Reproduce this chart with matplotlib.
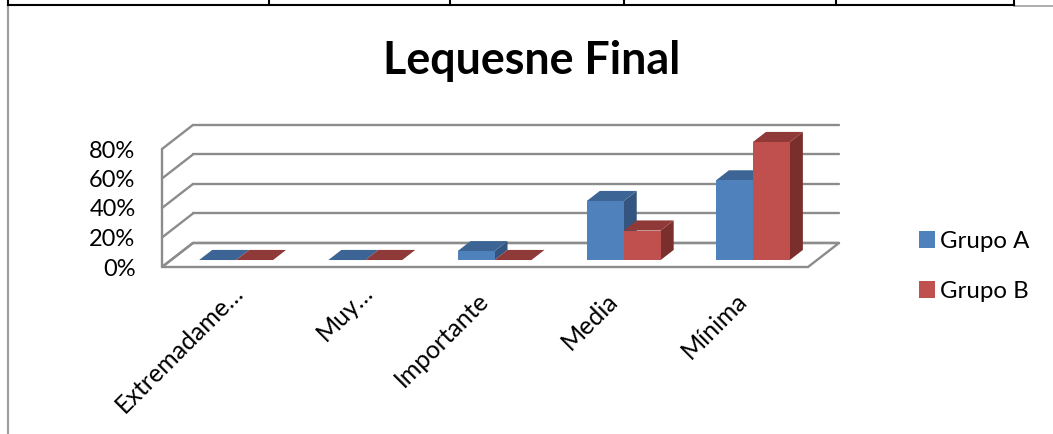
# -*- coding: utf-8 -*-

# barras con falso 3D (proyeccion oblicua) para el Lequesne final
import matplotlib
matplotlib.use('Agg')
import matplotlib.pyplot as plt
from matplotlib.patches import Polygon, Patch
from matplotlib.ticker import PercentFormatter
from matplotlib.transforms import ScaledTranslation

plt.rcParams['font.family'] = ['Lato', 'DejaVu Sans']

categorias = ['Extremadame…', 'Muy…', 'Importante', 'Media', 'Mínima']
grupo_a = [0, 0, 6, 40, 54]
grupo_b = [0, 0, 0, 20, 80]
marcas_y = [0, 20, 40, 60, 80]

GRIS = '#8c8c8c'
AZUL = ('#4f81bd', '#3c6494', '#34557f')
ROJO = ('#c0504d', '#8f3a38', '#7a2f2d')

W, H = 1053, 434
fig = plt.figure(figsize=(W / 100, H / 100), dpi=100)
ax = fig.add_axes([162 / W, (H - 267) / H, 646 / W, 118 / H])
ax.set_xlim(0, 5)
ax.set_ylim(0, 80)
for s in ax.spines.values():
    s.set_visible(False)

# desplazamiento de la profundidad, en unidades de los datos
PROF_X = 0.24
PROF_Y = 16.3


def proy(x, v, d):
    return (x + d * PROF_X, v + d * PROF_Y)


def cara(puntos, color, z, borde='none', lw=0):
    ax.add_patch(Polygon(puntos, closed=True, facecolor=color, edgecolor=borde,
                         lw=lw, zorder=z, clip_on=False, joinstyle='round'))


def linea(a, b, z=1):
    ax.plot([a[0], b[0]], [a[1], b[1]], color=GRIS, lw=1.7, zorder=z,
            clip_on=False, solid_capstyle='round')


# suelo
cara([proy(0, 0, 0), proy(5, 0, 0), proy(5, 0, 1), proy(0, 0, 1)], 'white', 1,
     GRIS, 1.7)

# pared izquierda y lineas de division
linea(proy(0, 0, 0), proy(0, 80, 0))
for m in marcas_y:
    linea(proy(0, m, 0), proy(0, m, 1))
    linea(proy(0, m, 1), proy(5, m, 1))

ANCHO = 0.286
HUECO = 0.218
D0 = 0.29
D1 = 0.71


def barra(x, v, colores, z):
    # frente con ax.bar, tapa y lateral como poligonos
    base = proy(x, 0, D0)
    if v > 0:
        ax.bar(base[0], v, ANCHO, bottom=base[1], align='edge',
               color=colores[0], zorder=z + 0.2, clip_on=False)
        cara([proy(x + ANCHO, 0, D0), proy(x + ANCHO, 0, D1),
              proy(x + ANCHO, v, D1), proy(x + ANCHO, v, D0)], colores[2], z)
    cara([proy(x, v, D0), proy(x + ANCHO, v, D0),
          proy(x + ANCHO, v, D1), proy(x, v, D1)], colores[1], z + 0.1)


for i, (a, b) in enumerate(zip(grupo_a, grupo_b)):
    barra(i + HUECO, a, AZUL, 3)
    barra(i + HUECO + ANCHO, b, ROJO, 4)

ax.set_yticks(marcas_y)
ax.yaxis.set_major_formatter(PercentFormatter(decimals=0))
ax.tick_params(axis='y', length=0, pad=19, labelsize=17, labelcolor='black')
baja = ScaledTranslation(0, -2 / 100, fig.dpi_scale_trans)
for t in ax.get_yticklabels():
    t.set_va('center')
    t.set_transform(t.get_transform() + baja)

# las etiquetas truncadas con puntos suspensivos quedan mas a la derecha
ax.set_xticks([i + d for i, d in enumerate([0.537, 0.54, 0.435, 0.435, 0.435])])
ax.set_xticklabels(categorias, rotation=45, ha='right', rotation_mode='anchor',
                   fontsize=18, color='black')
ax.tick_params(axis='x', length=0, pad=7)
for t, dy in zip(ax.get_xticklabels(), [4, 4, 12, 12, 12]):
    t.set_transform(t.get_transform() + ScaledTranslation(0, -dy / 100, fig.dpi_scale_trans))

fig.text(532 / W, 1 - 61 / H, 'Lequesne Final', ha='center', va='center',
         fontsize=32.3, fontweight='bold', color='black')

manejadores = [Patch(facecolor=AZUL[0], label='Grupo A'),
               Patch(facecolor=ROJO[0], label='Grupo B')]
fig.legend(handles=manejadores, loc='center left',
           bbox_to_anchor=(897 / W, 1 - 266.5 / H), frameon=False, fontsize=17.3,
           handlelength=0.68, handleheight=0.68, handletextpad=0.2,
           labelspacing=1.2)

# marco: borde de tabla arriba y borde gris del objeto
marco = fig.add_axes([0, 0, 1, 1], facecolor='none')
marco.set_xlim(0, W)
marco.set_ylim(H, 0)
marco.axis('off')
marco.plot([8, 8], [7, H], color='#a0a0a0', lw=1.6)
marco.plot([1014, W], [6, 6], color='#a0a0a0', lw=1.2)
marco.plot([8, 1014], [5, 5], color='black', lw=1.5)
for xv in [8, 269, 450, 624, 836, 1014]:
    marco.plot([xv, xv], [0, 5], color='black', lw=1.5)

fig.savefig('out.png', dpi=100)
